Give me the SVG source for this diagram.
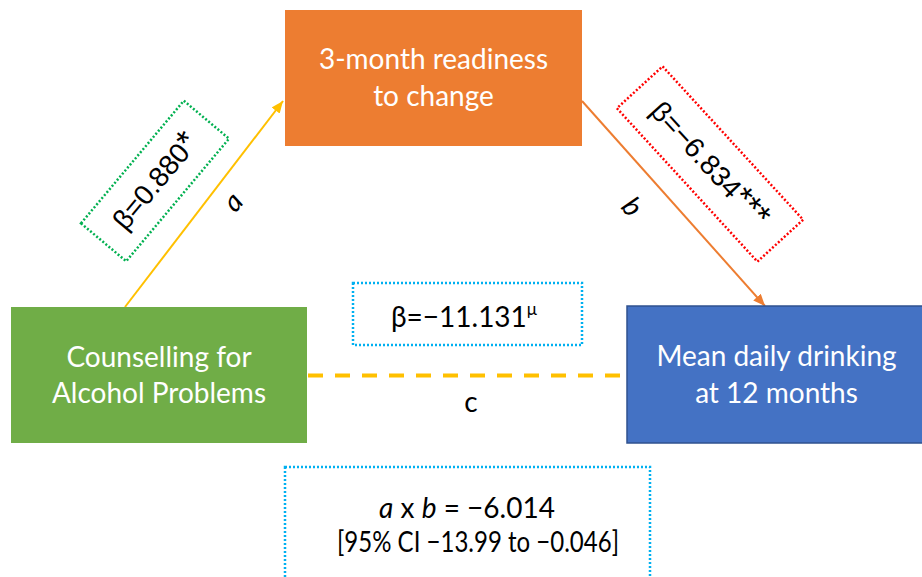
<svg xmlns="http://www.w3.org/2000/svg" width="922" height="577" viewBox="0 0 922 577">
<defs>
<style>
.box-text{font-family:Lato,"Open Sans",sans-serif;font-size:28px;fill:#ffffff;text-anchor:middle}
.lbl{font-family:Lato,"Open Sans",sans-serif;font-size:28px;fill:#000000;text-anchor:middle}
.beta{font-family:"Liberation Sans",Arial,sans-serif;font-size:28px;fill:#000000;text-anchor:middle}
.dot{fill:none;stroke-width:2.5;stroke-dasharray:2 2}
</style>
<marker id="ah-y" viewBox="0 0 12 10" refX="12" refY="5" markerWidth="12" markerHeight="10" markerUnits="userSpaceOnUse" orient="auto">
<path d="M0,0 L12,5 L0,10 z" fill="#FFC000"/>
</marker>
<marker id="ah-o" viewBox="0 0 12 10" refX="12" refY="5" markerWidth="12" markerHeight="10" markerUnits="userSpaceOnUse" orient="auto">
<path d="M0,0 L12,5 L0,10 z" fill="#ED7D31"/>
</marker>
</defs>
<rect width="922" height="577" fill="#ffffff"/>

<g id="connectors">
<line x1="125" y1="307" x2="283" y2="101" stroke="#FFC000" stroke-width="2" marker-end="url(#ah-y)"/>
<line x1="582" y1="101" x2="765" y2="306" stroke="#ED7D31" stroke-width="2" marker-end="url(#ah-o)"/>
<line x1="308" y1="375.5" x2="627" y2="375.5" stroke="#FFC000" stroke-width="4" stroke-dasharray="15 12"/>
<text class="lbl" font-style="italic" transform="translate(234,203) rotate(-50)" x="0" y="8">a</text>
<text class="lbl" font-style="italic" transform="translate(631,208) rotate(48)" x="0" y="8">b</text>
<text class="lbl" x="471" y="412">c</text>
</g>

<g id="node-readiness">
<rect x="285" y="10" width="297" height="136" fill="#ED7D31"/>
<text class="box-text" x="433.5" y="69">3-month readiness</text>
<text class="box-text" x="433.5" y="106">to change</text>
</g>

<g id="node-counselling">
<rect x="11" y="307" width="296" height="136" fill="#70AD47"/>
<text class="box-text" x="159" y="367">Counselling for</text>
<text class="box-text" x="159" y="403">Alcohol Problems</text>
</g>

<g id="node-drinking">
<rect x="627" y="306" width="300" height="137" fill="#4472C4" stroke="#2F528F" stroke-width="1.5"/>
<text class="box-text" x="776.5" y="366">Mean daily drinking</text>
<text class="box-text" x="776.5" y="403">at 12 months</text>
</g>

<g id="label-a-beta">
<rect x="-80" y="-29.5" width="160" height="59" class="dot" stroke="#00B050" transform="translate(155,181) rotate(-50)"/>
<text class="beta" transform="translate(155,181) rotate(-50)" x="0" y="10">β=0.880<tspan font-size="34">*</tspan></text>
</g>

<g id="label-b-beta">
<rect x="-104" y="-31" width="208" height="62" class="dot" stroke="#FF0000" transform="translate(710,164) rotate(47.5)"/>
<text class="beta" transform="translate(710,164) rotate(47.5)" x="0" y="10">β=−6.834<tspan font-size="34">***</tspan></text>
</g>

<g id="label-c-beta">
<rect x="353" y="283" width="229" height="62" class="dot" stroke="#00B0F0"/>
<text class="lbl" x="464" y="327">β=−11.131<tspan font-size="17" dy="-12">μ</tspan></text>
</g>

<g id="indirect-effect">
<rect x="285" y="467" width="365" height="120" class="dot" stroke="#00B0F0"/>
<text class="lbl" x="467" y="518"><tspan font-style="italic">a</tspan> x <tspan font-style="italic">b</tspan> = −6.014</text>
<text class="lbl" x="478" y="552" font-size="27" textLength="282" lengthAdjust="spacingAndGlyphs">[95% CI −13.99 to −0.046]</text>
</g>
</svg>
